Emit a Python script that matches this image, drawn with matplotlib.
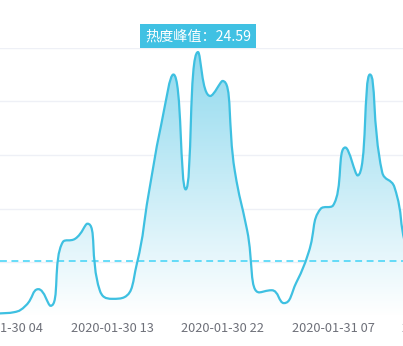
#coding: utf-8
import numpy as np
import pandas as pd
import matplotlib
matplotlib.use("Agg")
import matplotlib.pyplot as plt
from matplotlib.path import Path
from matplotlib.patches import PathPatch
from matplotlib.colors import LinearSegmentedColormap
from matplotlib.transforms import blended_transform_factory

plt.rcParams['font.family'] = ['Noto Sans CJK SC', 'DejaVu Sans']

# hourly heat values, starting 2020-01-30 03:00
hours = pd.date_range("2020-01-30 03:00", periods=38, freq="h").strftime("%Y-%m-%d %H").tolist()
heat = [0.2, 0.25, 0.35, 1.0, 2.5, 0.95, 6.9, 7.2, 8.6, 2.4, 1.6, 1.75, 4.75,
        11.5, 17.8, 22.5, 11.8, 24.59, 20.5, 21.9, 13.5, 8.0, 2.2, 2.4, 1.2,
        3.1, 5.9, 10.0, 10.3, 15.7, 13.1, 22.5, 13.4, 12.0, 6.2, 4.0, 3.0, 2.5]
avg_line = 5.15
peak_label = "热度峰值：24.59"
tick_every = 9

line_color = '#3ec0e1'
PX_X = 12.28   # pixels per hour
PX_Y = 10.73   # pixels per unit of heat


def smooth_path(xs, ys, smooth=0.5):
    # same bezier construction as echarts "smooth: true", done in pixel space
    px = np.asarray(xs, float) * PX_X
    py = np.asarray(ys, float) * PX_Y
    n = len(px)
    verts = [(px[0], py[0])]
    codes = [Path.MOVETO]
    cpx0, cpy0 = px[0], py[0]
    for i in range(1, n):
        x, y = px[i], py[i]
        prev_x, prev_y = px[i - 1], py[i - 1]
        if i == n - 1:
            ncx0, ncy0 = x, y
            cpx1, cpy1 = x, y
        else:
            next_x, next_y = px[i + 1], py[i + 1]
            vx, vy = next_x - prev_x, next_y - prev_y
            len_prev = np.hypot(x - prev_x, y - prev_y)
            len_next = np.hypot(next_x - x, next_y - y)
            r = len_next / (len_next + len_prev)
            cpx1 = x + vx * smooth * r
            cpy1 = y + vy * smooth * r
            cpx1 = max(min(cpx1, max(next_x, x)), min(next_x, x))
            cpy1 = max(min(cpy1, max(next_y, y)), min(next_y, y))
            vx, vy = cpx1 - x, cpy1 - y
            ncx0 = x - vx * len_prev / len_next
            ncy0 = y - vy * len_prev / len_next
            ncx0 = max(min(ncx0, max(prev_x, x)), min(prev_x, x))
            ncy0 = max(min(ncy0, max(prev_y, y)), min(prev_y, y))
            vx, vy = x - ncx0, y - ncy0
            cpx1 = x + vx * len_next / len_prev
            cpy1 = y + vy * len_next / len_prev
        verts += [(cpx0, cpy0), (ncx0, ncy0), (x, y)]
        codes += [Path.CURVE4] * 3
        cpx0, cpy0 = cpx1, cpy1
    verts = np.array(verts)
    verts[:, 0] /= PX_X
    verts[:, 1] /= PX_Y
    return verts, codes


fig = plt.figure(figsize=(4.03, 3.46), dpi=100)
ax = fig.add_axes([0, 30 / 346, 1, 268.3 / 346])

x = np.arange(len(heat))
verts, codes = smooth_path(x, heat)

# gradient area under the curve
area_verts = np.vstack([[x[0], 0], verts, [x[-1], 0], [x[0], 0]])
area_codes = [Path.MOVETO, Path.LINETO] + codes[1:] + [Path.LINETO, Path.CLOSEPOLY]
area = PathPatch(Path(area_verts, area_codes), facecolor='none', edgecolor='none')
ax.add_patch(area)
cmap = LinearSegmentedColormap.from_list('heat', ['#ffffff', '#8fd9ee'])
grad = np.linspace(0, 1, 256).reshape(-1, 1)
im = ax.imshow(grad, cmap=cmap, origin='lower', aspect='auto',
               extent=[x[0], x[-1], 0, 25], zorder=1)
im.set_clip_path(area)

ax.add_patch(PathPatch(Path(verts, codes), facecolor='none', edgecolor=line_color,
                       lw=1.6, zorder=3))

ax.axhline(avg_line, color='#3fd3f7', lw=1.1, dashes=(4.5, 3), zorder=2)

for g in [5, 10, 15, 20, 25]:
    ax.axhline(g, color='#eef0f6', lw=1.0, zorder=0)
ax.axhline(0, color='#e6e8ef', lw=1.0, zorder=0)

# peak label
ipk = int(np.argmax(heat))
ax.annotate(peak_label, xy=(x[ipk], heat[ipk]), xytext=(0, 11.5), textcoords='offset points',
            ha='center', va='center', color='white', fontsize=10.2,
            bbox=dict(boxstyle='square,pad=0.36', fc='#40c1e3', ec='none'),
            annotation_clip=False, zorder=5)

ax.set_xlim(1 - 1.5 / PX_X, 1 + 401.5 / PX_X)
ax.set_ylim(0, 25)
ax.set_xticks([])
ax.set_yticks([])
for s in ax.spines.values():
    s.set_visible(False)

# category labels every 9 hours (the last one runs off the right edge)
trans = blended_transform_factory(ax.transData, ax.transAxes)
for i in range(1, len(hours), tick_every):
    ax.annotate(hours[i], xy=(i, 0), xycoords=trans, xytext=(0, -8.8),
                textcoords='offset points', ha='center', va='center',
                fontsize=9.2, color='#6e7079', annotation_clip=False)

fig.savefig('out.png', dpi=100)
